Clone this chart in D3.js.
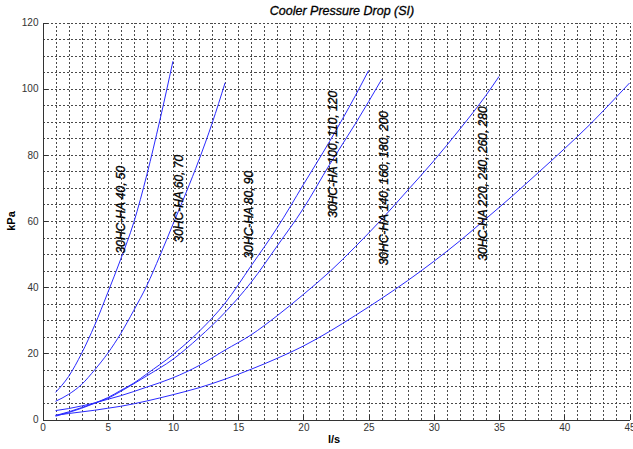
<!DOCTYPE html>
<html>

<head>
    <style>
        body {
            margin: 0;
            background-color: #ffffff;
        }

        svg {
            display: block;
            font-family: "Liberation Sans", Arial, sans-serif;
        }

        .grid line {
            stroke: #4a4a4a;
            stroke-width: 1;
            stroke-dasharray: 2, 2;
            shape-rendering: crispEdges;
        }

        .axis path,
        .axis line {
            stroke: #333;
            shape-rendering: crispEdges;
        }

        .axis text {
            font-size: 10px;
            fill: #333;
        }

        .curve {
            fill: none;
            stroke: #2a2aff;
            stroke-width: 1;
        }

        .model {
            font-size: 12px;
            font-style: italic;
            fill: #000;
            stroke: #000;
            stroke-width: 0.35;
        }
    </style>
</head>

<body>
    <div id="chart"></div>

    <script src="https://d3js.org/d3.v7.min.js"></script>

    <script>
        // flow (l/s) and pressure drop (kPa) for each model group
        var xA = [1, 2, 3, 4, 5, 6, 7, 8, 9, 10];
        var yA = [8.2, 13, 20, 28.5, 38.3, 48.5, 59.6, 74, 90.5, 108.3];

        var xB = [1, 2, 3, 4, 5, 6, 7, 8, 9, 10, 11, 12, 13, 14];
        var yB = [5.5, 7.6, 10.6, 15, 20, 26, 33, 40.5, 49.5, 59, 68.5, 78.5, 89.5, 101.8];

        var xC = [1, 2, 3, 4, 5, 6, 7, 8, 10, 12, 14, 16, 18, 20, 22, 24, 25];
        var yC = [1.2, 2.3, 3.6, 5.0, 6.6, 8.8, 11, 13.8, 19.6, 26.6, 35.2, 46.5, 58, 71, 84, 98, 105.5];

        var xD = [1, 2, 3, 4, 5, 6, 7, 8, 10, 12, 14, 16, 18, 20, 22, 24, 26];
        var yD = [1.0, 2.1, 3.4, 4.9, 6.4, 8.5, 10.8, 13.2, 18.2, 24.8, 32.4, 41.5, 52.5, 63.8, 77, 89.5, 102.8];

        var xE = [1, 2, 3, 4, 5, 6, 8, 10, 12, 14, 16, 18, 20, 22, 24, 26, 28, 30, 32, 34, 35];
        var yE = [2.7, 3.3, 4.1, 5.0, 6.1, 7.2, 9.8, 12.6, 16.3, 21, 25.6, 31.4, 37.8, 44.6, 52.3, 60.5, 69.3, 78.2, 87.8, 98, 103.7];

        var xF = [1, 2, 3, 4, 5, 6, 8, 10, 12, 14, 16, 18, 20, 22, 24, 26, 28, 30, 32, 34, 36, 38, 40, 42, 44, 45];
        var yF = [1.3, 1.8, 2.3, 2.8, 3.4, 4.0, 5.6, 7.5, 9.6, 12.2, 15.2, 18.5, 22.2, 26.6, 31.5, 36.6, 42, 47.8, 54, 60.7, 67.5, 74.6, 81.8, 89.3, 97.5, 101.7];

        var modelNames = ["30HC-HA 40, 50", "30HC-HA 60, 70", "30HC-HA 80, 90",
            "30HC-HA 100, 110, 120", "30HC-HA 140, 160, 180, 200", "30HC-HA 220, 240, 260, 280"];
        // where each model name starts, in chart units
        var nameX = [6, 10.5, 15.8, 22.25, 26.2, 33.8];
        var nameY = [50.2, 53.5, 48.7, 61, 46.6, 48];

        var xTicks = [0, 5, 10, 15, 20, 25, 30, 35, 40, 45];
        var yTicks = [0, 20, 40, 60, 80, 100, 120];

        var width = 633, height = 449;

        var svg = d3.select("#chart").append("svg")
            .attr("width", width)
            .attr("height", height);

        var x = d3.scaleLinear().domain([0, 45]).range([42.5, 629.5]);
        var y = d3.scaleLinear().domain([0, 120]).range([419.5, 22.5]);

        // dotted grid: every 1 l/s and every 5 kPa
        var grid = svg.append("g").attr("class", "grid");
        grid.selectAll("line.v")
            .data(d3.range(1, 46))
            .enter().append("line")
            .attr("class", "v")
            .attr("x1", d => Math.round(x(d)) + 0.5)
            .attr("x2", d => Math.round(x(d)) + 0.5)
            .attr("y1", y(0))
            .attr("y2", y(120));
        grid.selectAll("line.h")
            .data(d3.range(5, 121, 5))
            .enter().append("line")
            .attr("class", "h")
            .attr("y1", d => Math.round(y(d)) + 0.5)
            .attr("y2", d => Math.round(y(d)) + 0.5)
            .attr("x1", x(0))
            .attr("x2", x(45));

        svg.append("g")
            .attr("class", "axis")
            .attr("transform", "translate(0," + y(0) + ")")
            .call(d3.axisBottom(x).tickValues(xTicks).tickSizeInner(-5).tickSizeOuter(0).tickPadding(4));

        svg.append("g")
            .attr("class", "axis")
            .attr("transform", "translate(" + x(0) + ",0)")
            .call(d3.axisLeft(y).tickValues(yTicks).tickSizeInner(-5).tickSizeOuter(0).tickPadding(4));

        var line = d3.line()
            .x(d => x(d[0]))
            .y(d => y(d[1]))
            .curve(d3.curveMonotoneX);

        var series = [[xA, yA], [xB, yB], [xC, yC], [xD, yD], [xE, yE], [xF, yF]];

        svg.selectAll("path.curve")
            .data(series)
            .enter().append("path")
            .attr("class", "curve")
            .attr("d", s => line(d3.zip(s[0], s[1])));

        svg.selectAll("text.model")
            .data(modelNames)
            .enter().append("text")
            .attr("class", "model")
            .attr("transform", (d, i) => "translate(" + x(nameX[i]) + "," + y(nameY[i]) + ") rotate(-90)")
            .attr("dominant-baseline", "central")
            .text(d => d);

        svg.append("text")
            .attr("x", 342)
            .attr("y", 15)
            .attr("text-anchor", "middle")
            .style("font-size", "12.5px")
            .style("font-style", "italic")
            .style("stroke", "#000")
            .style("stroke-width", 0.3)
            .text("Cooler Pressure Drop (SI)");

        svg.append("text")
            .attr("x", 334)
            .attr("y", 443)
            .attr("text-anchor", "middle")
            .style("font-size", "11px")
            .style("font-weight", "bold")
            .text("l/s");

        svg.append("text")
            .attr("transform", "translate(15,221) rotate(-90)")
            .attr("text-anchor", "middle")
            .style("font-size", "11px")
            .style("font-weight", "bold")
            .text("kPa");
    </script>
</body>

</html>
